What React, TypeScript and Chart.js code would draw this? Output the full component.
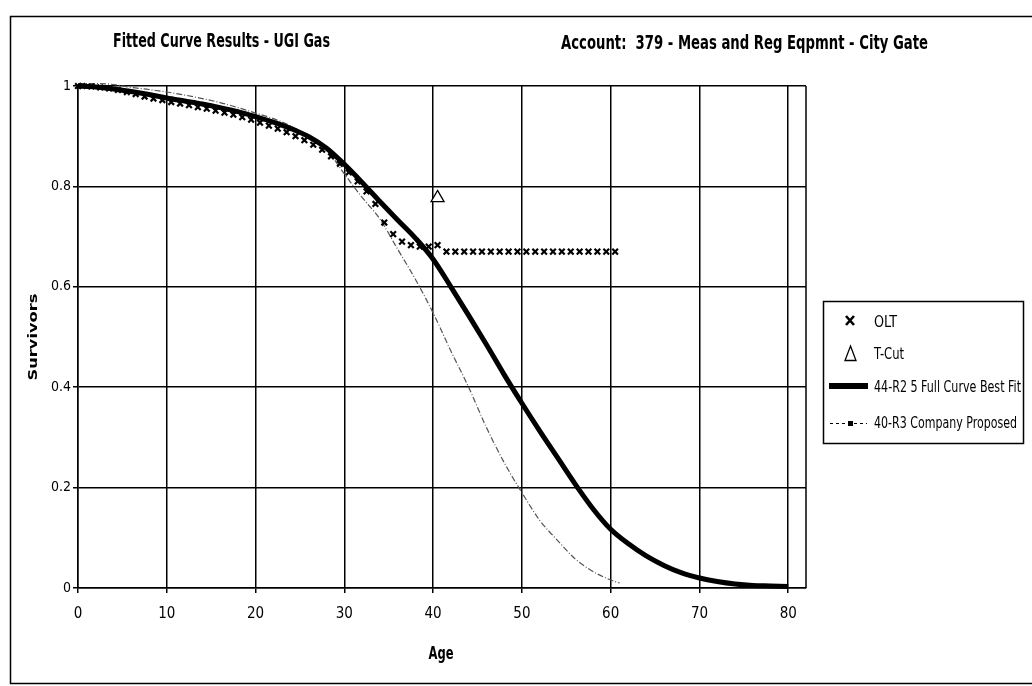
import React, { useEffect, useRef } from "react";
import { Chart, registerables } from "chart.js";

Chart.register(...registerables);

// ---------------- data ----------------
const fullCurveAges = [0, 2, 4, 6, 8, 10, 12, 14, 16, 18, 20, 22, 24, 26, 28, 30, 32, 34, 36, 38, 40, 42, 44, 46, 48, 50, 52, 54, 56, 58, 60, 62, 64, 66, 68, 70, 72, 74, 76, 78, 80];
const fullCurveValues = [1.0, 0.998, 0.994, 0.989, 0.983, 0.976, 0.97, 0.964, 0.957, 0.949, 0.939, 0.928, 0.915, 0.899, 0.876, 0.844, 0.808, 0.77, 0.733, 0.697, 0.655, 0.6, 0.543, 0.485, 0.425, 0.368, 0.313, 0.26, 0.207, 0.158, 0.117, 0.088, 0.064, 0.045, 0.03, 0.02, 0.013, 0.008, 0.005, 0.004, 0.003];

const companyAges = [0, 2, 4, 6, 8, 10, 12, 14, 16, 18, 20, 22, 24, 26, 28, 30, 32, 34, 36, 38, 40, 42, 44, 46, 48, 50, 52, 54, 56, 58, 60, 61];
const companyValues = [1.005, 1.005, 1.003, 0.997, 0.993, 0.988, 0.982, 0.975, 0.967, 0.957, 0.946, 0.935, 0.92, 0.9, 0.873, 0.825, 0.778, 0.735, 0.675, 0.615, 0.548, 0.472, 0.4, 0.32, 0.25, 0.19, 0.135, 0.095, 0.058, 0.033, 0.016, 0.01];

const oltAges = [0, 0.5, 1.5, 2.5, 3.5, 4.5, 5.5, 6.5, 7.5, 8.5, 9.5, 10.5, 11.5, 12.5, 13.5, 14.5, 15.5, 16.5, 17.5, 18.5, 19.5, 20.5, 21.5, 22.5, 23.5, 24.5, 25.5, 26.5, 27.5, 28.5, 29.5, 30.5, 31.5, 32.5, 33.5, 34.5, 35.5, 36.5, 37.5, 38.5, 39.5, 40.5, 41.5, 42.5, 43.5, 44.5, 45.5, 46.5, 47.5, 48.5, 49.5, 50.5, 51.5, 52.5, 53.5, 54.5, 55.5, 56.5, 57.5, 58.5, 59.5, 60.5];
const oltValues = [1.0, 1.0, 0.999, 0.997, 0.995, 0.992, 0.988, 0.984, 0.979, 0.975, 0.972, 0.968, 0.965, 0.962, 0.958, 0.955, 0.951, 0.947, 0.943, 0.938, 0.933, 0.927, 0.921, 0.915, 0.908, 0.9, 0.892, 0.883, 0.873, 0.86, 0.845, 0.828, 0.81, 0.79, 0.765, 0.728, 0.705, 0.69, 0.683, 0.68, 0.68, 0.683, 0.67, 0.67, 0.67, 0.67, 0.67, 0.67, 0.67, 0.67, 0.67, 0.67, 0.67, 0.67, 0.67, 0.67, 0.67, 0.67, 0.67, 0.67, 0.67, 0.67];

const tCutAges = [40.5];
const tCutValues = [0.777];

const xTickValues = [0, 10, 20, 30, 40, 50, 60, 70, 80];
const yTickValues = [0, 0.2, 0.4, 0.6, 0.8, 1];

const titleLeft = "Fitted Curve Results - UGI Gas";
const titleRight = "Account:  379 - Meas and Reg Eqpmnt - City Gate";
const xTitle = "Age";
const yTitle = "Survivors";
const legendLabels = ["OLT", "T-Cut", "44-R2 5 Full Curve Best Fit", "40-R3 Company Proposed"];

// ---------------- helpers ----------------
const NARROW = "'Liberation Sans Narrow', 'DejaVu Sans Condensed', 'Arial Narrow', sans-serif";

function fitText(c: CanvasRenderingContext2D, text: string, x: number, y: number, w: number, font: string, align: CanvasTextAlign = "left", baseline: CanvasTextBaseline = "alphabetic") {
  c.save();
  c.font = font;
  c.textAlign = align;
  c.textBaseline = baseline;
  const m = c.measureText(text).width || 1;
  c.translate(x, y);
  c.scale(w / m, 1);
  c.fillStyle = "#000";
  c.fillText(text, 0, 0);
  c.restore();
}

const decorPlugin = {
  id: "decor",
  beforeDraw(chart: any) {
    const c: CanvasRenderingContext2D = chart.ctx;
    c.save();
    c.fillStyle = "#fff";
    c.fillRect(0, 0, chart.width, chart.height);
    // outer frame
    c.strokeStyle = "#000";
    c.lineWidth = 1.5;
    c.beginPath();
    c.moveTo(1040, 16.5);
    c.lineTo(10.5, 16.5);
    c.lineTo(10.5, 683.5);
    c.lineTo(1040, 683.5);
    c.stroke();
    c.restore();
  },
  afterDraw(chart: any) {
    const c: CanvasRenderingContext2D = chart.ctx;
    const a = chart.chartArea;
    c.save();
    // plot right border
    c.strokeStyle = "#000";
    c.lineWidth = 1.5;
    c.beginPath();
    c.moveTo(a.right, a.top);
    c.lineTo(a.right, a.bottom);
    c.stroke();

    // titles
    fitText(c, titleLeft, 113, 47, 217, `bold 19px ${NARROW}`);
    fitText(c, titleRight, 561, 49, 367, `bold 19px ${NARROW}`);
    fitText(c, xTitle, 441, 659, 25, `bold 17px ${NARROW}`, "center");
    c.save();
    c.translate(34, 337);
    c.rotate(-Math.PI / 2);
    fitText(c, yTitle, 0, 0, 87, "bold 13px 'DejaVu Sans', sans-serif", "center", "middle");
    c.restore();

    // legend box
    c.fillStyle = "#fff";
    c.fillRect(823, 301, 200, 142);
    c.strokeStyle = "#000";
    c.lineWidth = 1.5;
    c.strokeRect(823.5, 301.5, 200, 142);

    // OLT marker
    c.lineWidth = 2.6;
    c.beginPath();
    c.moveTo(846, 316);
    c.lineTo(854, 325);
    c.moveTo(854, 316);
    c.lineTo(846, 325);
    c.stroke();
    // T-Cut marker
    c.lineWidth = 1.3;
    c.beginPath();
    c.moveTo(850.5, 346);
    c.lineTo(856, 360.5);
    c.lineTo(845, 360.5);
    c.closePath();
    c.stroke();
    // thick line
    c.lineWidth = 6;
    c.beginPath();
    c.moveTo(829, 386);
    c.lineTo(868, 386);
    c.stroke();
    // dashed line with dot
    c.lineWidth = 1.2;
    c.setLineDash([3, 3]);
    c.beginPath();
    c.moveTo(830, 423.5);
    c.lineTo(867, 423.5);
    c.stroke();
    c.setLineDash([]);
    c.fillStyle = "#000";
    c.fillRect(848, 421, 5, 5);

    const widths = [23, 30, 147, 143];
    const baselines = [327, 359, 392, 428];
    legendLabels.forEach((t, i) => {
      fitText(c, t, 874, baselines[i], widths[i], `15px ${NARROW}`);
    });
    c.restore();
  },
};

export default function App() {
  const ref = useRef<HTMLCanvasElement>(null);

  useEffect(() => {
    document.body.style.margin = "0";
    const canvas = ref.current!;
    const chart = new Chart(canvas, {
      type: "scatter",
      data: {
        datasets: [
          {
            label: legendLabels[1],
            data: tCutAges.map((x, i) => ({ x, y: tCutValues[i] })),
            pointStyle: "triangle",
            pointRadius: 7.5,
            backgroundColor: "#fff",
            borderColor: "#000",
            borderWidth: 1.3,
            showLine: false,
            clip: false,
          },
          {
            label: legendLabels[0],
            data: oltAges.map((x, i) => ({ x, y: oltValues[i] })),
            pointStyle: "crossRot",
            pointRadius: 4,
            borderColor: "#000",
            backgroundColor: "#000",
            borderWidth: 2.2,
            showLine: false,
            clip: false,
          },
          {
            label: legendLabels[2],
            data: fullCurveAges.map((x, i) => ({ x, y: fullCurveValues[i] })),
            showLine: true,
            borderColor: "#000",
            borderWidth: 5,
            pointRadius: 0,
            cubicInterpolationMode: "monotone",
            clip: false,
          },
          {
            label: legendLabels[3],
            data: companyAges.map((x, i) => ({ x, y: companyValues[i] })),
            showLine: true,
            borderColor: "#555",
            borderWidth: 1.2,
            borderDash: [6, 2, 1, 2],
            pointRadius: 0,
            cubicInterpolationMode: "monotone",
            clip: false,
          },
        ] as any,
      },
      options: {
        responsive: false,
        animation: false,
        events: [],
        layout: { padding: { left: 0, top: 86, right: 226, bottom: 0 } },
        plugins: {
          legend: { display: false },
          title: { display: false },
          tooltip: { enabled: false },
        },
        scales: {
          x: {
            type: "linear",
            min: 0,
            max: 82,
            afterBuildTicks: (scale: any) => {
              scale.ticks = xTickValues.map((v) => ({ value: v }));
            },
            afterFit: (scale: any) => {
              scale.height = 98;
            },
            grid: { color: "#000", lineWidth: 1.5, tickLength: 5, drawTicks: true },
            border: { display: true, color: "#000", width: 1.5 },
            ticks: {
              color: "#000",
              padding: 12,
              maxRotation: 0,
              autoSkip: false,
              font: { family: NARROW, size: 15 },
            },
          },
          y: {
            type: "linear",
            min: 0,
            max: 1,
            afterBuildTicks: (scale: any) => {
              scale.ticks = yTickValues.map((v) => ({ value: v }));
            },
            afterFit: (scale: any) => {
              scale.width = 78;
            },
            grid: { color: "#000", lineWidth: 1.5, tickLength: 5, drawTicks: true },
            border: { display: true, color: "#000", width: 1.5 },
            ticks: {
              color: "#000",
              padding: 2,
              font: { family: NARROW, size: 14 },
              callback: (v: any) => String(Math.round(Number(v) * 10) / 10),
            },
          },
        },
      },
      plugins: [decorPlugin],
    });
    return () => chart.destroy();
  }, []);

  return (
    <div style={{ position: "absolute", left: 0, top: 0, width: 1032, height: 686, background: "#fff" }}>
      <canvas ref={ref} width={1032} height={686} style={{ display: "block" }} />
    </div>
  );
}
